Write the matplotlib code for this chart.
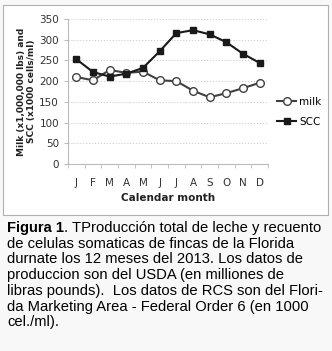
import matplotlib.pyplot as plt
from matplotlib.patches import Rectangle

months = ['J', 'F', 'M', 'A', 'M', 'J', 'J', 'A', 'S', 'O', 'N', 'D']
milk = [210, 202, 227, 220, 223, 202, 200, 177, 161, 171, 183, 196]
scc = [253, 222, 211, 218, 232, 272, 316, 323, 313, 294, 266, 244]

caption_lines = [
    ". TProducción total de leche y recuento",
    "de celulas somaticas de fincas de la Florida",
    "durnate los 12 meses del 2013. Los datos de",
    "produccion son del USDA (en milliones de",
    "libras pounds).  Los datos de RCS son del Flori-",
    "da Marketing Area - Federal Order 6 (en 1000",
    "cel./ml).",
]

W, H = 332, 351
fig = plt.figure(figsize=(W / 100, H / 100), dpi=100)
fig.patch.set_facecolor('#f8f8f8')

# chart frame
fig.patches.append(Rectangle((3 / W, 1 - 215 / H), 325 / W, 210 / H,
                             transform=fig.transFigure, facecolor='white',
                             edgecolor='#b0b0b0', linewidth=0.8, zorder=-5))

ax = fig.add_axes([68 / W, 1 - 164 / H, 200 / W, 145 / H])
ax.patch.set_alpha(0)
x = range(len(months))
ax.plot(x, milk, color='#404040', marker='o', markersize=5.5,
        markerfacecolor='white', markeredgecolor='#404040', lw=1.5, label='milk')
ax.plot(x, scc, color='#1a1a1a', marker='s', markersize=5, lw=1.5, label='SCC')
ax.set_xlim(-0.5, 11.5)
ax.set_ylim(0, 350)
ax.set_yticks(range(0, 351, 50))
ax.set_xticks(x)
ax.set_xticklabels(months)
ax.set_xticks([i - 0.5 for i in range(13)], minor=True)
ax.grid(axis='y', color='#cccccc', linestyle=':', linewidth=0.8)
ax.set_axisbelow(True)
for s in ['top', 'right']:
    ax.spines[s].set_visible(False)
ax.spines['left'].set_color('#bbbbbb')
ax.spines['bottom'].set_color('#bbbbbb')
ax.tick_params(axis='y', length=3, color='#bbbbbb', labelsize=7.5, colors='#333333')
ax.tick_params(axis='x', which='major', length=0, labelsize=7.5, colors='#333333', pad=10)
ax.tick_params(axis='x', which='minor', length=3, color='#bbbbbb')
ax.set_xlabel('Calendar month', fontsize=7.5, fontweight='bold', color='#222222', labelpad=4)
ax.set_ylabel('Milk (x1,000,000 lbs) and\nSCC (x1000 cells/ml)', fontsize=6.5,
              fontweight='bold', color='#222222', labelpad=2)
ax.legend(loc='center left', bbox_to_anchor=(1.0, 0.36), frameon=False, fontsize=7.5,
          handlelength=1.8, labelspacing=1.0, handletextpad=0.3)

# caption
fs = 10.6
fam = 'Liberation Sans'
y0 = 1 - 228 / H
fig.canvas.draw()
r = fig.canvas.get_renderer()
t = fig.text(7 / W, y0, 'Figura 1', fontsize=fs, fontweight='bold', family=fam,
             va='center', color='black')
bb = t.get_window_extent(r)
fig.text(bb.x1 / W, y0, caption_lines[0], fontsize=fs, family=fam, va='center', color='black')
for i, line in enumerate(caption_lines[1:], 1):
    fig.text(7 / W, y0 - i * 15.7 / H, line, fontsize=fs, family=fam, va='center', color='black')

fig.savefig('out.png', dpi=100, facecolor=fig.get_facecolor())
